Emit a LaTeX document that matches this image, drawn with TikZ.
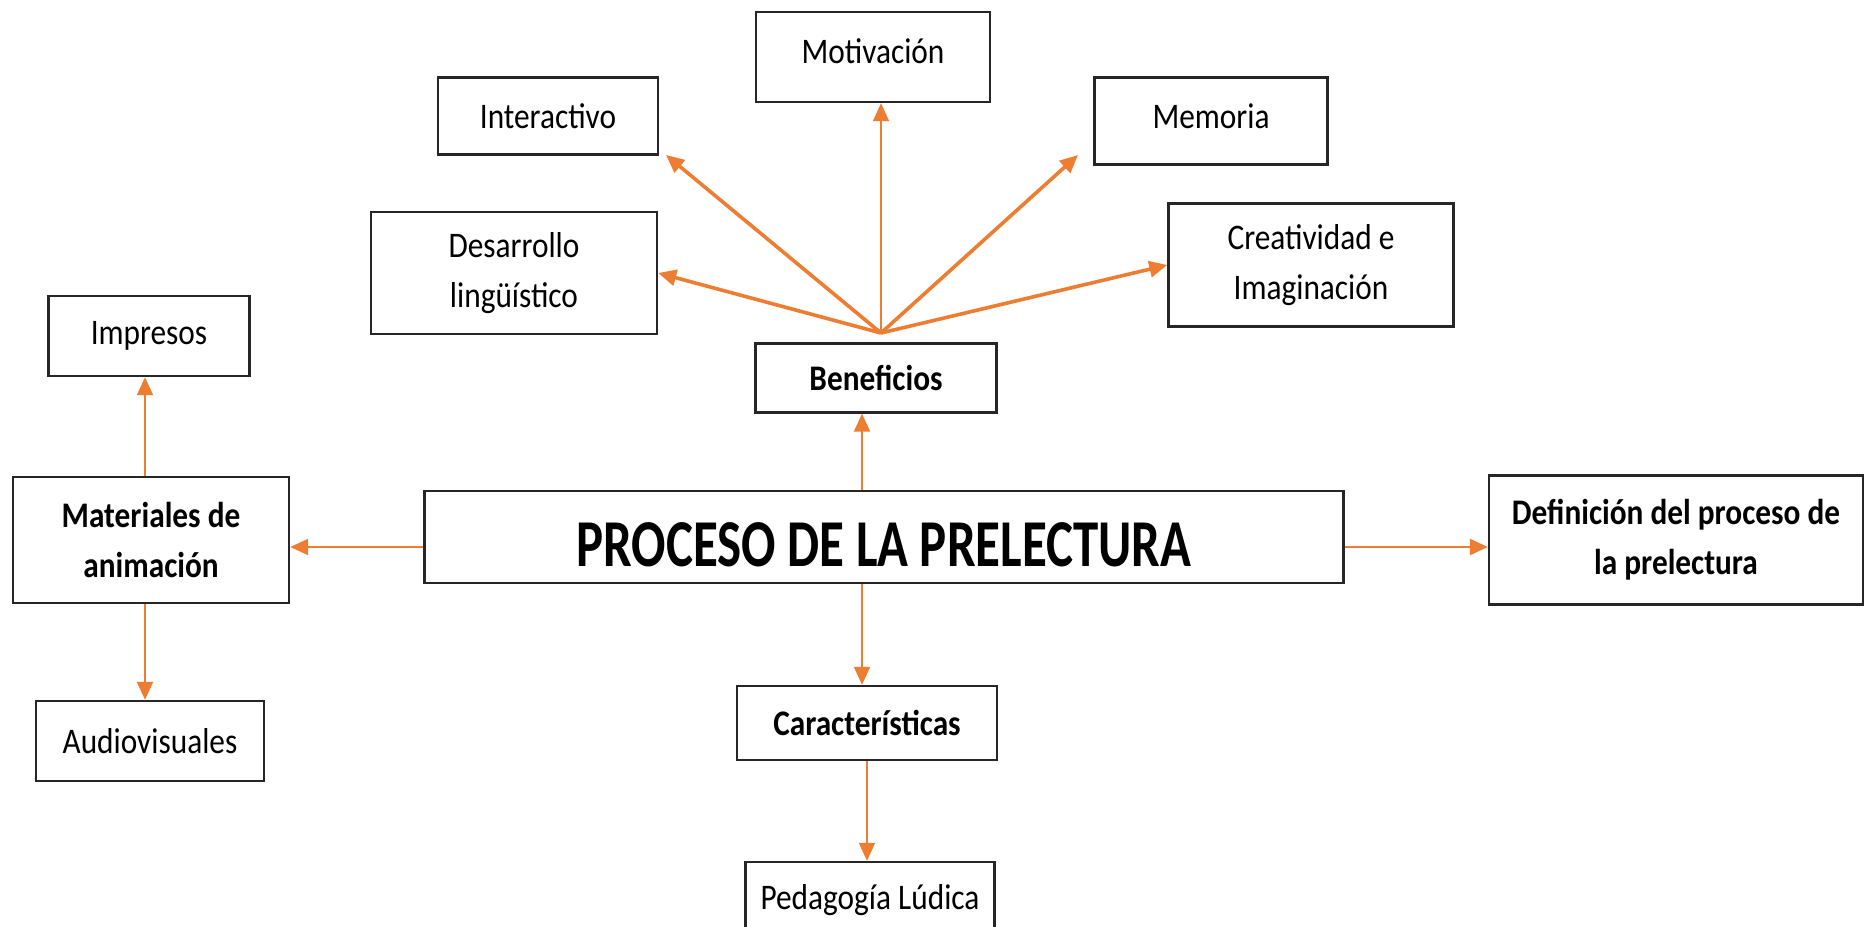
\documentclass[tikz,border=0pt]{standalone}
\usepackage{fontspec}
\setmainfont{Carlito}[FakeStretch=0.87]
\newfontfamily\titlefont{Carlito}[FakeStretch=0.76]
\usetikzlibrary{arrows.meta}
\definecolor{arrowor}{HTML}{ED7D31}
\definecolor{boxline}{HTML}{262626}
\tikzset{box/.style={draw=boxline, line width=2.4pt, align=center, inner sep=0pt, font=\fontsize{36}{50}\selectfont}}
\tikzset{boldbox/.style={box, font=\fontsize{36}{50}\selectfont\bfseries}}
\tikzset{link/.style={draw=arrowor, line width=2pt, -{Triangle[length=18pt, width=16pt]}}}
\tikzset{fanlink/.style={link, line width=3.6pt}}

\begin{document}
\begin{tikzpicture}[x=1pt, y=-1pt]
            \clip (0, 0) rectangle (1865, 926);
            % ramas superiores
            \node[box, minimum width=234pt, minimum height=90pt, text depth=12pt] (moti) at (873, 57) {Motivación};
            \node[box, minimum width=220pt, minimum height=77pt] (inte) at (548, 116) {Interactivo};
            \node[box, minimum width=233pt, minimum height=87pt, text depth=10pt] (memo) at (1211, 121) {Memoria};
            \node[box, minimum width=286pt, minimum height=122pt] (desa) at (514, 273) {Desarrollo\\lingüístico};
            \node[box, minimum width=285pt, minimum height=123pt] (crea) at (1311, 265) {Creatividad e\\Imaginación};
            \node[boldbox, minimum width=241pt, minimum height=69pt] (bene) at (876, 378) {Beneficios};
            % centro y lados
            \node[box, minimum width=919pt, minimum height=92pt, line width=2.8pt, text height=59pt, text depth=0pt, font=\titlefont\fontsize{67}{70}\selectfont\bfseries] (proc) at (884, 537) {PROCESO DE LA PRELECTURA};
            \node[boldbox, minimum width=276pt, minimum height=126pt] (mate) at (151, 540) {Materiales de\\animación};
            \node[boldbox, minimum width=374pt, minimum height=129pt] (defi) at (1676, 540) {Definición del proceso de\\la prelectura};
            \node[box, minimum width=201pt, minimum height=80pt] (impr) at (149, 336) {Impresos};
            \node[box, minimum width=228pt, minimum height=80pt] (audi) at (150, 741) {Audiovisuales};
            \node[boldbox, minimum width=260pt, minimum height=74pt] (cara) at (867, 723) {Características};
            \node[box, minimum width=249pt, minimum height=76pt] (peda) at (870, 900) {Pedagogía Lúdica};
            % abanico de beneficios
            \coordinate (fan) at (881, 333);
            \coordinate (intetip) at (666, 155);
            \coordinate (memotip) at (1078, 155);
            \draw[link, line width=1.8pt] (fan) -- (fan |- moti.south);
            \draw[fanlink] (fan) -- (intetip);
            \draw[fanlink] (fan) -- (memotip);
            \draw[fanlink] (fan) -- (desa.east);
            \draw[fanlink] (fan) -- (crea.west);
            % conectores del centro
            \coordinate (procup) at ([xshift=-22pt]proc.north);
            \coordinate (procdown) at ([xshift=-22pt]proc.south);
            \coordinate (procleft) at ([yshift=-10pt]proc.west);
            \coordinate (procright) at ([yshift=-10pt]proc.east);
            \coordinate (mateup) at ([xshift=-6pt]mate.north);
            \coordinate (matedown) at ([xshift=-6pt]mate.south);
            \draw[link] (procup) -- (procup |- bene.south);
            \draw[link] (procdown) -- (procdown |- cara.north);
            \draw[link] (cara.south) -- (cara.south |- peda.north);
            \draw[link] (procleft) -- (mate.east |- procleft);
            \draw[link, line width=2.6pt] (procright) -- (defi.west |- procright);
            \draw[link] (mateup) -- (mateup |- impr.south);
            \draw[link] (matedown) -- (matedown |- audi.north);
        \end{tikzpicture}
\end{document}
